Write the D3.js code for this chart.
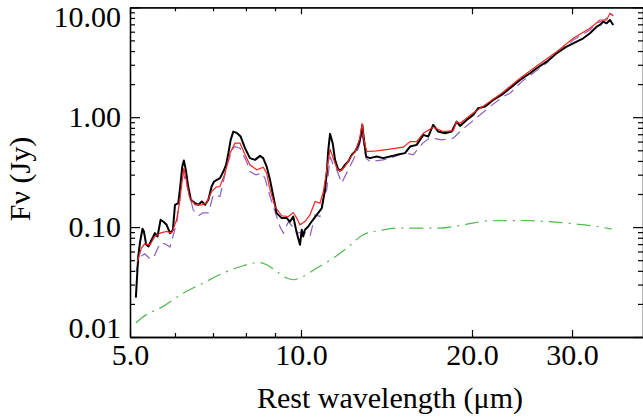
<!DOCTYPE html>
<html>
<head>
<meta charset="utf-8">
<script src="https://cdn.jsdelivr.net/npm/d3@7"></script>
<style>
  body { margin: 0; background: #fff; }
  svg text { font-family: "Liberation Serif", "Times New Roman", serif; }
</style>
</head>
<body>
<div id="chart"></div>
<script>
// observed spectrum (black)
const obsWave = [5.12,5.17,5.21,5.26,5.29,5.34,5.39,5.44,5.53,5.59,
  5.66,5.72,5.80,5.88,5.95,6.00,6.08,6.12,6.18,6.22,
  6.27,6.33,6.40,6.51,6.60,6.69,6.78,6.87,6.96,7.03,
  7.11,7.20,7.30,7.38,7.45,7.52,7.60,7.72,7.83,7.97,
  8.13,8.30,8.47,8.58,8.70,8.82,8.94,9.06,9.25,9.44,
  9.56,9.69,9.83,9.96,10.03,10.09,10.16,10.30,10.44,10.66,
  10.88,11.02,11.10,11.17,11.25,11.37,11.48,11.63,11.79,11.95,
  12.11,12.28,12.45,12.62,12.74,12.82,12.91,13.02,13.23,13.59,
  13.96,14.34,14.74,15.24,15.56,15.98,16.42,16.75,17.09,17.44,
  17.92,18.42,18.79,19.05,19.57,20.10,20.51,21.08,21.80,22.55,
  23.33,24.30,25.30,25.99,27.07,28.19,29.35,30.57,31.40,32.26,
  33.15,33.59,34.05,34.52,34.98,35.46];
const obsFlux = [0.0228,0.0540,0.0740,0.0965,0.0912,0.0690,0.0666,0.0740,0.0882,0.0821,
  0.1165,0.1124,0.1049,0.0882,0.0945,0.1595,0.1653,0.2183,0.3556,0.4031,
  0.3319,0.2339,0.1771,0.1653,0.1595,0.1709,0.1595,0.1771,0.2339,0.2598,
  0.2692,0.2790,0.3202,0.3684,0.4709,0.6218,0.7397,0.7154,0.6665,0.5227,
  0.4240,0.4091,0.4448,0.4240,0.3556,0.2692,0.1897,0.1341,0.1207,0.1207,
  0.1117,0.1248,0.0882,0.0690,0.0945,0.0821,0.0945,0.1013,0.1124,0.1293,
  0.1488,0.2183,0.3097,0.5044,0.7051,0.5801,0.4091,0.3319,0.3319,0.3684,
  0.3948,0.4544,0.4866,0.5601,0.6665,0.8511,0.6218,0.4383,0.4240,0.4383,
  0.4240,0.4383,0.4544,0.4709,0.5404,0.5601,0.6904,0.6665,0.8511,0.7397,
  0.7154,0.7397,0.9120,0.8335,0.9451,1.049,1.207,1.248,1.437,1.595,
  1.835,2.183,2.512,2.789,3.202,3.818,4.383,4.867,5.226,5.801,
  6.662,6.904,7.397,7.154,7.664,6.904];

// total model (red)
const fitWave = [5.15,5.24,5.31,5.42,5.53,5.65,5.80,5.92,6.04,6.12,
  6.19,6.22,6.27,6.36,6.51,6.69,6.82,6.96,7.09,7.20,
  7.35,7.50,7.65,7.81,7.97,8.13,8.36,8.58,8.70,8.82,
  9.00,9.25,9.50,9.69,9.83,9.96,10.16,10.37,10.59,10.80,
  10.95,11.10,11.25,11.37,11.56,11.71,11.95,12.20,12.45,12.67,
  12.82,12.91,13.05,13.59,14.34,15.14,15.56,15.98,16.42,17.09,
  17.80,18.54,18.79,19.05,20.10,21.08,22.55,24.30,25.99,28.19,
  30.15,32.26,33.59,34.52,34.98,35.46];
const fitFlux = [0.0484,0.0648,0.0705,0.0690,0.0821,0.0882,0.0912,0.0882,0.1165,0.1771,
  0.2884,0.3439,0.2790,0.1897,0.1595,0.1595,0.1653,0.2107,0.2310,0.2339,
  0.3097,0.4709,0.5801,0.5801,0.4544,0.3684,0.3319,0.3511,0.3097,0.2183,
  0.1539,0.1267,0.1248,0.1357,0.1207,0.1049,0.1124,0.1293,0.1709,0.1653,
  0.2107,0.3319,0.5118,0.4383,0.3439,0.3202,0.3556,0.4240,0.4866,0.6218,
  0.8820,0.6218,0.4866,0.4938,0.5118,0.5337,0.6001,0.6001,0.7154,0.8111,
  0.7397,0.7555,0.9120,0.8820,1.094,1.294,1.653,2.262,2.927,3.948,
  5.226,6.444,7.664,7.664,8.820,8.425];

// model component (purple dashed)
const compWave = [5.12,5.21,5.31,5.42,5.50,5.58,5.65,5.76,5.88,6.04,
  6.12,6.19,6.25,6.33,6.46,6.60,6.72,6.87,7.01,7.20,
  7.40,7.56,7.65,7.81,8.02,8.13,8.33,8.53,8.64,8.82,
  9.06,9.18,9.31,9.50,9.68,9.88,10.08,10.25,10.37,10.59,
  10.80,10.95,11.10,11.25,11.40,11.56,11.79,12.11,12.36,12.62,
  12.82,13.02,13.23,13.94,14.34,15.24,15.75,16.40,16.87,17.69,
  18.54,19.05,19.67,20.65,21.51,22.67,23.33,24.47,25.61,27.07,
  28.19,30.15,32.26,33.15,34.28,34.98,35.46];
const compFlux = [0.0392,0.0537,0.0572,0.0515,0.0526,0.0622,0.0716,0.0705,0.0658,0.1088,
  0.1771,0.3319,0.2692,0.2183,0.1437,0.1267,0.1349,0.1349,0.1966,0.1897,
  0.3556,0.5044,0.5404,0.5227,0.3948,0.3202,0.2989,0.3097,0.2790,0.1897,
  0.1248,0.1013,0.0882,0.1117,0.1006,0.0882,0.0906,0.0869,0.0821,0.1293,
  0.1248,0.1897,0.2183,0.4383,0.3684,0.3319,0.2512,0.3319,0.4091,0.5227,
  0.6904,0.4240,0.3948,0.4091,0.4240,0.4737,0.4544,0.5839,0.6484,0.6218,
  0.6444,0.7397,0.8511,1.049,1.248,1.539,1.653,2.107,2.512,3.116,
  3.818,5.043,6.218,7.154,7.664,8.820,8.336];

// continuum component (green dash-dot)
const contWave = [5.12,5.24,5.72,6.21,6.73,7.30,7.91,8.41,8.70,9.06,9.44,9.69,10.09,10.66,11.40,
  12.04,12.87,13.77,14.74,16.20,17.56,19.31,21.51,24.63,27.07,30.15,33.15,35.22];
const contFlux = [0.0134,0.0149,0.0190,0.0251,0.0310,0.0382,0.0445,0.0477,0.0454,0.0395,0.0344,0.0332,0.0356,0.0424,0.0523,
  0.0644,0.0851,0.0931,0.0979,0.0979,0.0979,0.1049,0.1141,0.1148,0.1124,0.1072,0.1013,0.0959];

const xTickValues = [5, 10, 20, 30];
const xTickLabels = ["5.0", "10.0", "20.0", "30.0"];
const xMinorTicks = [6, 7, 8, 9];
const yTickValues = [0.01, 0.1, 1, 10];
const yTickLabels = ["0.01", "0.10", "1.00", "10.00"];

const width = 643, height = 418;
const margin = {top: 7.3, right: 0, bottom: 81, left: 130};

let svg = d3.select("#chart").append("svg")
    .attr("width", width)
    .attr("height", height);

let x = d3.scaleLog().domain([5, 40]).range([margin.left, width - margin.right]);
let y = d3.scaleLog().domain([0.01, 10]).range([height - margin.bottom, margin.top]);

let yMinor = y.ticks().filter(d => !yTickValues.some(t => Math.abs(t - d) / t < 1e-6));

// axes
function styleAxis(g) {
    g.selectAll("path.domain").attr("stroke", "#000").attr("stroke-width", 1.3);
    g.selectAll(".tick line").attr("stroke", "#000").attr("stroke-width", 1.2);
    g.selectAll("text").attr("font-size", 30).attr("fill", "#000")
        .style("font-family", '"Liberation Serif", "Times New Roman", serif');
}

let xb = svg.append("g").attr("transform", `translate(0,${y.range()[0]})`)
    .call(d3.axisBottom(x).tickValues(xTickValues).tickSizeInner(-7).tickSizeOuter(0).tickPadding(7)
        .tickFormat((d, i) => xTickLabels[i]));
styleAxis(xb);
svg.append("g").attr("transform", `translate(0,${y.range()[0]})`)
    .call(d3.axisBottom(x).tickValues(xMinorTicks).tickSizeInner(-4).tickSizeOuter(0).tickFormat(""))
    .call(styleAxis);

let xt = svg.append("g").attr("transform", `translate(0,${margin.top})`)
    .call(d3.axisTop(x).tickValues(xTickValues).tickSizeInner(-7).tickSizeOuter(0).tickFormat(""));
styleAxis(xt);
svg.append("g").attr("transform", `translate(0,${margin.top})`)
    .call(d3.axisTop(x).tickValues(xMinorTicks).tickSizeInner(-4).tickSizeOuter(0).tickFormat(""))
    .call(styleAxis);

let yl = svg.append("g").attr("transform", `translate(${margin.left},0)`)
    .call(d3.axisLeft(y).tickValues(yTickValues).tickSizeInner(-10).tickSizeOuter(0).tickPadding(9)
        .tickFormat((d, i) => yTickLabels[i]));
styleAxis(yl);
// keep the end labels inside the frame
yl.selectAll(".tick text").attr("transform", d => {
    let py = y(d);
    if (py < 17) return `translate(0,${17 - py})`;
    if (py > 328) return `translate(0,${328 - py})`;
    return null;
});
svg.append("g").attr("transform", `translate(${margin.left},0)`)
    .call(d3.axisLeft(y).tickValues(yMinor).tickSizeInner(-5).tickSizeOuter(0).tickFormat(""))
    .call(styleAxis);

svg.append("g").attr("transform", `translate(${width - margin.right},0)`)
    .call(d3.axisRight(y).tickValues(yTickValues).tickSizeInner(-10).tickSizeOuter(0).tickFormat(""))
    .call(styleAxis);
svg.append("g").attr("transform", `translate(${width - margin.right},0)`)
    .call(d3.axisRight(y).tickValues(yMinor).tickSizeInner(-5).tickSizeOuter(0).tickFormat(""))
    .call(styleAxis);

// lines
let line = d3.line().x(d => x(d[0])).y(d => y(d[1]));
let smooth = d3.line().x(d => x(d[0])).y(d => y(d[1])).curve(d3.curveMonotoneX);

svg.append("path").datum(d3.zip(contWave, contFlux))
    .attr("d", smooth).attr("fill", "none")
    .attr("stroke", "#4fb84f").attr("stroke-width", 1.2)
    .attr("stroke-dasharray", "14,6,2,6");

svg.append("path").datum(d3.zip(compWave, compFlux))
    .attr("d", line).attr("fill", "none")
    .attr("stroke", "#8d5fbf").attr("stroke-width", 1.2)
    .attr("stroke-dasharray", "11,6");

svg.append("path").datum(d3.zip(obsWave, obsFlux))
    .attr("d", line).attr("fill", "none")
    .attr("stroke", "#000").attr("stroke-width", 2).attr("stroke-linejoin", "round");

svg.append("path").datum(d3.zip(fitWave, fitFlux))
    .attr("d", line).attr("fill", "none")
    .attr("stroke", "#f22626").attr("stroke-width", 1.2);

// titles
svg.append("text")
    .attr("x", 390).attr("y", 408)
    .attr("text-anchor", "middle")
    .attr("font-size", 30)
    .text("Rest wavelength (μm)");

svg.append("text")
    .attr("transform", "translate(30,179) rotate(-90)")
    .attr("text-anchor", "middle")
    .attr("font-size", 30)
    .text("Fν (Jy)");
</script>
</body>
</html>
